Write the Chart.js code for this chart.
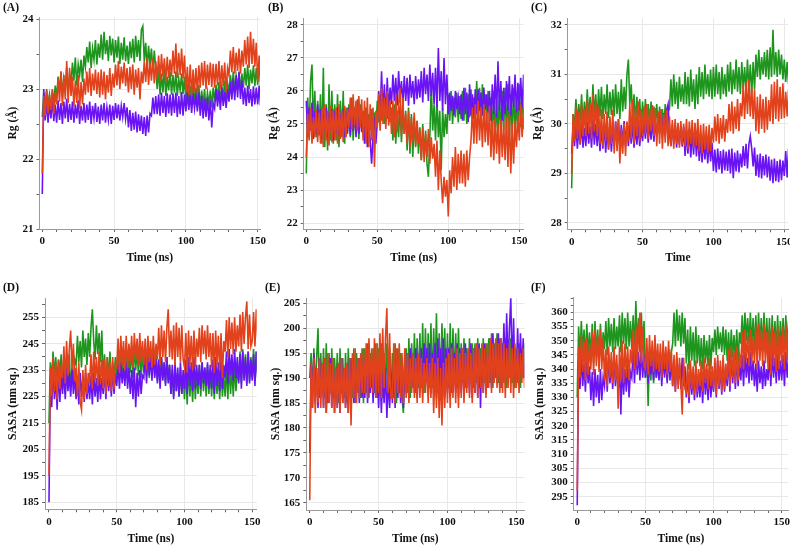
<!DOCTYPE html>
<html>
<head>
<meta charset="utf-8">
<script src="https://cdn.jsdelivr.net/npm/chart.js@4.4.0/dist/chart.umd.min.js"></script>
<style>
  html, body { margin: 0; padding: 0; background: #fff; }
  #wrap { position: relative; width: 790px; height: 546px; overflow: hidden; }
  #wrap canvas { position: absolute; }
  .tag { position: absolute; font: bold 11.5px "Liberation Serif", serif; color: #111; line-height: 14px; }
</style>
</head>
<body>
<div id="wrap"></div>
<script>
// time axis (ns), one sample per ns, shared by every trace
const TIME = [0,1,2,3,4,5,6,7,8,9,10,11,12,13,14,15,16,17,18,19,20,21,22,23,24,25,26,27,28,29,
  30,31,32,33,34,35,36,37,38,39,40,41,42,43,44,45,46,47,48,49,50,51,52,53,54,55,56,57,58,59,
  60,61,62,63,64,65,66,67,68,69,70,71,72,73,74,75,76,77,78,79,80,81,82,83,84,85,86,87,88,89,
  90,91,92,93,94,95,96,97,98,99,100,101,102,103,104,105,106,107,108,109,110,111,112,113,114,
  115,116,117,118,119,120,121,122,123,124,125,126,127,128,129,130,131,132,133,134,135,136,137,
  138,139,140,141,142,143,144,145,146,147,148,149,150,151,152,153,154,155,156];

const X_TICKS = [0, 50, 100, 150];
const X_GRID = [50, 100, 150];

// (A) Rg (Å)
const A_YTICKS = [21, 22, 23, 24];
const A_GREEN = [
  22.60,22.95,22.72,23.00,22.78,22.92,22.70,22.98,22.80,23.05,
  22.86,23.18,22.95,23.25,22.88,23.15,23.00,23.30,22.92,23.22,
  23.08,23.38,23.12,23.45,23.05,23.35,23.20,23.42,23.10,23.48,
  23.32,23.60,23.38,23.68,23.30,23.58,23.42,23.70,23.35,23.65,
  23.45,23.78,23.42,23.82,23.50,23.70,23.40,23.76,23.48,23.72,
  23.38,23.70,23.45,23.75,23.36,23.66,23.42,23.74,23.40,23.62,
  23.36,23.68,23.44,23.72,23.38,23.76,23.46,23.70,23.40,23.85,
  23.90,23.40,23.66,23.30,23.62,23.35,23.58,23.25,23.55,23.28,
  23.00,23.28,22.92,23.22,22.95,23.30,22.90,23.18,22.98,23.25,
  22.92,23.20,22.95,23.25,22.90,23.15,22.98,23.22,22.93,23.18,
  22.80,23.08,22.76,23.05,22.82,23.10,22.78,23.02,22.75,23.06,
  22.72,22.98,22.76,23.00,22.70,22.95,22.78,22.98,22.74,23.02,
  22.82,23.06,22.86,23.10,22.80,23.04,22.88,23.12,22.84,23.08,
  22.96,23.20,22.98,23.25,22.95,23.18,23.00,23.24,22.97,23.22,
  23.02,23.30,23.05,23.35,23.00,23.28,23.08,23.34,23.04,23.30,
  23.06,23.38,23.10,23.40,23.05,23.32,23.12];
const A_RED = [
  21.80,22.90,22.62,22.98,22.66,22.92,22.70,23.00,22.64,22.95,
  22.78,23.15,22.82,23.25,22.76,23.20,22.85,23.40,22.80,23.30,
  22.90,23.18,22.75,23.12,22.80,23.20,22.72,23.10,22.78,23.15,
  22.92,23.25,22.95,23.30,22.90,23.22,22.98,23.28,22.93,23.24,
  22.88,23.28,22.92,23.25,22.85,23.20,22.95,23.30,22.90,23.22,
  23.02,23.35,23.05,23.40,23.00,23.32,23.08,23.38,23.04,23.30,
  22.95,23.32,23.00,23.35,22.92,23.28,23.02,23.30,22.85,23.25,
  23.08,23.40,23.10,23.45,23.06,23.38,23.12,23.44,23.08,23.40,
  23.14,23.48,23.12,23.50,23.18,23.44,23.10,23.46,23.16,23.42,
  23.18,23.55,23.22,23.65,23.16,23.52,23.20,23.58,23.15,23.48,
  22.95,23.32,22.92,23.35,22.90,23.28,22.96,23.30,22.93,23.34,
  23.02,23.38,23.05,23.40,23.00,23.35,23.06,23.38,23.03,23.36,
  23.02,23.36,23.05,23.40,23.00,23.34,23.04,23.38,22.95,23.30,
  23.20,23.55,23.24,23.60,23.22,23.52,23.26,23.58,23.22,23.55,
  23.32,23.70,23.35,23.75,23.30,23.82,23.36,23.72,23.32,23.66,
  23.10,23.48,23.06,23.45,23.12,23.50,23.08];
const A_BLUE = [
  21.50,23.00,22.55,22.82,22.52,22.80,22.58,22.85,22.54,22.78,
  22.52,22.84,22.56,22.80,22.50,22.82,22.58,22.86,22.53,22.79,
  22.56,22.82,22.52,22.78,22.58,22.84,22.50,22.76,22.55,22.80,
  22.52,22.78,22.56,22.82,22.50,22.76,22.58,22.80,22.53,22.75,
  22.50,22.78,22.55,22.80,22.52,22.74,22.56,22.78,22.50,22.76,
  22.56,22.80,22.58,22.78,22.55,22.76,22.60,22.80,22.57,22.74,
  22.45,22.70,22.40,22.66,22.42,22.68,22.38,22.64,22.40,22.62,
  22.36,22.60,22.33,22.62,22.38,22.65,22.62,22.88,22.64,22.90,
  22.64,22.92,22.62,22.95,22.66,22.90,22.60,22.94,22.65,22.92,
  22.62,22.94,22.66,22.95,22.60,22.90,22.64,22.96,22.62,22.92,
  22.68,22.95,22.70,22.92,22.66,22.94,22.72,22.90,22.68,22.95,
  22.62,22.90,22.58,22.86,22.60,22.88,22.55,22.84,22.45,22.80,
  22.72,23.00,22.75,22.98,22.70,23.02,22.76,22.96,22.73,23.00,
  22.82,23.10,22.85,23.15,22.84,23.20,22.88,23.25,22.86,23.12,
  22.78,23.02,22.76,23.05,22.80,23.00,22.75,23.04,22.78,23.02,
  22.78,23.05,22.76,23.02,22.80,23.04,22.78];

// (B) Rg (Å)
const B_YTICKS = [22, 23, 24, 25, 26, 27, 28];
const B_GREEN = [
  23.50,25.80,24.70,26.30,26.80,24.90,26.00,24.60,25.70,24.80,
  25.90,24.40,26.70,24.30,25.60,24.20,26.20,24.50,26.00,24.40,
  25.60,24.50,25.90,24.30,25.70,24.60,26.00,24.40,25.50,24.70,
  25.60,24.60,25.80,24.50,25.50,24.70,25.75,24.55,25.60,24.80,
  25.40,24.70,25.50,24.60,25.30,24.80,25.45,24.65,25.35,24.90,
  25.70,25.05,25.80,25.10,25.60,25.00,25.75,25.15,25.65,25.05,
  25.50,24.50,25.60,24.40,25.40,24.60,25.55,24.45,25.35,24.70,
  25.40,24.20,25.50,24.10,25.30,24.00,25.20,24.30,25.10,24.10,
  24.90,23.90,25.00,24.00,24.80,23.80,23.40,24.60,26.20,24.80,
  25.60,24.50,25.80,24.60,25.40,23.60,25.50,24.60,25.30,24.70,
  25.90,25.10,26.00,25.00,25.80,25.20,25.95,25.05,25.85,25.15,
  26.00,25.10,26.10,25.00,25.90,25.20,26.05,25.05,25.80,25.10,
  26.30,25.10,26.10,25.00,26.20,25.20,25.90,25.05,26.00,25.10,
  25.80,24.60,26.00,24.50,25.70,24.70,25.90,24.55,26.00,24.80,
  26.10,24.60,26.20,24.50,25.90,24.70,26.10,24.60,25.80,24.80,
  26.20,24.90,26.00,24.85,26.10,25.00,25.95];
const B_RED = [
  24.00,25.30,24.50,25.50,24.40,25.20,24.60,25.45,24.45,25.35,
  24.40,25.50,24.30,25.60,24.50,25.40,24.35,25.55,24.45,25.45,
  24.50,25.50,24.40,25.60,24.55,25.40,24.45,25.55,24.60,25.50,
  24.90,25.80,24.85,25.90,24.95,25.70,24.80,25.85,24.90,25.75,
  24.50,25.70,24.40,25.80,24.30,25.60,24.50,25.50,23.70,25.40,
  24.90,25.90,24.80,26.10,25.00,25.80,24.85,26.00,24.95,25.70,
  24.70,25.70,24.60,25.90,24.75,25.60,26.10,24.65,25.80,24.70,
  25.30,24.40,25.40,24.30,25.20,24.45,25.35,24.35,25.10,24.40,
  24.80,23.90,24.90,23.85,24.70,24.00,24.85,23.80,24.60,23.95,
  24.40,23.40,24.50,23.00,24.20,23.30,22.60,23.40,22.80,23.30,
  22.20,23.60,22.90,24.00,23.10,24.30,23.00,24.10,23.20,24.20,
  23.20,24.10,23.10,24.20,23.30,24.00,24.50,25.50,24.40,25.60,
  24.40,25.70,24.50,25.50,24.30,25.60,24.45,25.40,24.35,25.55,
  24.00,25.10,23.90,25.20,24.10,25.00,23.80,25.15,24.00,25.05,
  23.90,25.20,23.70,25.30,23.50,25.00,23.80,25.10,24.30,25.25,
  24.50,25.60,24.60,25.50,24.55,25.55,24.60];
const B_BLUE = [
  25.70,24.60,25.50,24.80,25.65,24.55,25.40,24.70,25.60,24.65,
  25.45,24.55,25.30,24.75,25.50,24.60,25.35,24.80,25.45,24.50,
  25.40,24.70,25.50,24.65,25.30,24.80,25.45,24.60,25.35,24.75,
  25.50,24.65,25.40,24.80,25.45,24.60,25.30,24.70,25.50,24.75,
  25.30,24.40,25.20,24.30,25.10,24.50,23.80,24.60,25.20,24.40,
  25.10,26.00,25.20,26.60,25.30,26.20,25.10,26.40,25.40,26.10,
  25.60,26.50,25.70,26.40,25.55,26.60,25.80,26.30,25.60,26.45,
  25.70,26.40,25.55,26.50,25.80,26.30,25.60,26.45,25.75,26.35,
  25.80,26.60,25.65,26.70,25.90,26.50,25.70,26.80,25.85,26.55,
  25.60,26.70,25.50,27.30,25.70,26.60,25.40,27.00,25.60,26.50,
  25.30,25.95,25.40,25.85,25.25,26.00,25.45,25.80,25.30,25.90,
  25.10,26.10,25.30,25.95,25.05,26.20,25.25,25.90,25.15,26.05,
  25.30,26.05,25.40,25.95,25.25,26.10,25.45,25.90,25.35,26.00,
  25.10,26.20,25.30,26.50,25.20,26.90,25.40,26.30,25.10,26.10,
  25.30,26.30,25.40,26.45,25.25,26.20,25.50,26.50,25.35,26.25,
  25.40,26.40,25.50,26.50,25.35,26.30,25.45];

// (C) Rg (Å)
const C_YTICKS = [28, 29, 30, 31, 32];
const C_GREEN = [
  28.70,30.20,29.95,30.50,30.00,30.40,30.05,30.60,29.95,30.45,
  30.05,30.70,30.10,30.55,30.00,30.80,30.15,30.60,30.05,30.70,
  30.15,30.75,30.10,30.60,30.20,30.80,30.12,30.65,30.18,30.70,
  30.15,30.80,30.20,30.65,30.10,30.90,30.25,30.75,30.30,31.00,
  31.30,30.40,30.80,30.10,30.60,29.95,30.55,30.00,30.50,29.90,
  30.45,29.95,30.50,29.90,30.40,30.00,30.45,29.92,30.35,30.00,
  30.40,29.90,30.35,29.95,30.30,29.90,30.40,29.95,30.25,30.30,
  30.90,30.35,31.00,30.40,30.85,30.30,30.95,30.45,30.80,30.40,
  31.05,30.40,30.95,30.35,31.10,30.45,30.90,30.30,31.00,30.40,
  31.15,30.55,31.05,30.50,31.20,30.60,31.00,30.55,31.10,30.50,
  31.15,30.55,31.20,30.60,31.05,30.50,31.15,30.60,31.00,30.55,
  31.20,30.65,31.25,30.60,31.10,30.70,31.30,30.65,31.15,30.60,
  31.25,30.70,31.15,30.65,31.30,30.70,31.20,30.60,31.25,30.70,
  31.40,30.95,31.50,30.90,31.35,31.00,31.45,30.95,31.50,30.90,
  31.55,30.95,31.90,31.00,31.45,30.95,31.50,31.00,31.40,30.90,
  31.30,30.85,31.25,30.80,31.30,30.90,31.20];
const C_RED = [
  29.00,30.20,29.65,30.35,29.70,30.25,29.60,30.40,29.75,30.30,
  29.75,30.50,29.80,30.40,29.70,30.60,29.85,30.45,29.75,30.35,
  29.60,30.30,29.55,30.20,29.65,30.25,29.50,30.15,29.60,30.28,
  29.40,30.05,29.45,30.10,29.20,29.90,29.40,30.00,29.35,30.05,
  29.65,30.40,29.70,30.50,29.60,30.35,29.75,30.45,29.65,30.30,
  29.75,30.35,29.80,30.40,29.70,30.30,29.85,30.38,29.75,30.32,
  29.55,30.25,29.60,30.30,29.50,30.20,29.62,30.28,29.55,30.15,
  29.55,30.08,29.50,30.10,29.60,30.02,29.52,30.06,29.58,30.00,
  29.55,30.10,29.50,30.05,29.60,30.08,29.52,30.02,29.56,30.10,
  29.45,29.98,29.40,30.00,29.48,29.95,29.42,29.98,29.45,29.92,
  29.62,30.15,29.65,30.20,29.60,30.12,29.70,30.18,29.64,30.10,
  29.82,30.40,29.85,30.45,29.80,30.35,29.90,30.50,29.85,30.42,
  30.15,30.80,30.10,30.85,30.20,30.90,30.15,30.75,30.10,30.70,
  29.85,30.55,29.80,30.60,29.90,30.50,29.82,30.55,29.88,30.48,
  30.05,30.80,30.00,30.85,30.10,30.90,30.05,30.75,30.10,30.82,
  30.12,30.65,30.15,30.70,30.10,30.62,30.18];
const C_BLUE = [
  29.40,29.95,29.55,30.00,29.50,29.90,29.58,29.98,29.52,29.92,
  29.55,30.05,29.60,29.95,29.52,30.10,29.58,30.00,29.55,29.96,
  29.45,29.95,29.50,30.00,29.42,29.92,29.48,29.98,29.44,29.90,
  29.55,30.05,29.60,30.10,29.52,29.98,29.58,30.06,29.55,30.02,
  29.55,29.98,29.60,30.00,29.52,29.95,29.58,29.98,29.55,29.94,
  29.65,30.05,29.70,30.10,29.62,30.02,29.68,30.08,29.64,30.04,
  29.75,30.20,29.80,30.25,29.72,30.22,29.78,30.28,30.40,29.80,
  29.55,29.98,29.60,30.00,29.52,29.95,29.58,29.98,29.54,29.94,
  29.35,29.85,29.40,29.90,29.32,29.82,29.38,29.88,29.34,29.80,
  29.25,29.68,29.22,29.70,29.28,29.65,29.20,29.68,29.24,29.62,
  29.05,29.48,29.02,29.50,29.08,29.45,29.00,29.48,29.06,29.44,
  29.05,29.48,29.00,29.50,28.90,29.42,29.04,29.46,29.02,29.40,
  29.12,29.55,29.15,29.60,29.10,29.58,29.75,29.50,29.14,29.52,
  28.95,29.38,28.92,29.40,28.90,29.35,28.96,29.38,28.92,29.34,
  28.85,29.28,28.80,29.30,28.84,29.25,28.82,29.28,28.86,29.26,
  28.95,29.45,28.92,29.50,28.96,29.42,28.98];

// (D) SASA (nm sq.)
const D_YTICKS = [185, 195, 205, 215, 225, 235, 245, 255];
const D_GREEN = [
  215,238,231,242,233,240,230,239,234,241,
  228,240,226,238,230,241,227,236,231,239,
  237,248,238,246,236,250,240,247,237,249,
  240,251,258,246,239,252,241,249,238,250,
  230,241,228,240,232,242,229,238,231,240,
  233,243,232,244,234,242,233,244,232,241,
  234,244,232,245,235,243,233,245,232,242,
  234,244,233,245,232,243,235,244,233,242,
  231,239,230,240,232,238,230,240,231,237,
  226,235,225,236,227,234,225,236,226,233,
  224,236,222,238,225,235,223,237,224,234,
  226,237,225,238,227,236,225,237,226,235,
  225,235,224,236,226,234,224,236,225,233,
  225,237,224,238,226,236,225,237,227,235,
  231,242,230,243,232,241,230,242,231,240,
  232,243,231,242,233,241,232];
const D_RED = [
  195,236,225,240,227,238,224,239,228,237,
  232,244,230,246,233,243,250,235,245,231,
  236,225,238,223,220,235,224,237,226,234,
  230,241,228,242,231,240,229,242,230,239,
  228,239,226,240,229,238,227,240,228,237,
  236,247,234,248,237,246,235,248,236,245,
  238,248,236,249,239,247,237,249,238,246,
  237,247,235,248,238,246,236,248,237,245,
  239,251,237,252,240,250,238,251,258,240,
  250,239,252,237,253,240,251,238,252,239,
  236,249,234,250,237,248,235,250,236,247,
  240,251,238,252,241,250,239,252,240,249,
  236,249,234,250,237,248,235,249,232,246,
  242,254,240,255,243,253,241,255,242,252,
  244,256,242,257,245,255,261,243,256,244,
  246,257,244,258,247,256,245];
const D_BLUE = [
  185,232,221,236,224,233,220,235,223,234,
  226,235,224,236,227,234,225,236,226,233,
  224,233,222,234,225,232,223,234,224,231,
  224,233,222,234,225,232,223,234,224,232,
  226,235,224,236,227,234,225,236,226,234,
  229,237,228,238,230,236,229,238,228,236,
  226,235,224,236,221,234,225,235,226,233,
  232,241,230,242,233,240,231,242,232,239,
  230,239,228,240,231,238,229,240,230,237,
  226,237,224,238,227,236,225,238,226,235,
  228,239,226,240,229,238,227,240,228,237,
  229,237,228,238,230,236,229,238,228,237,
  228,239,226,240,229,238,227,240,228,237,
  232,242,230,243,233,241,231,243,232,240,
  230,241,228,242,231,240,229,242,230,239,
  231,241,229,242,232,240,230];

// (E) SASA (nm sq.)
const E_YTICKS = [165, 170, 175, 180, 185, 190, 195, 200, 205];
const E_GREEN = [
  190,195,187,196,188,194,200,186,195,187,
  196,186,197,185,195,187,196,186,194,188,
  195,185,196,187,194,186,195,185,196,187,
  194,186,196,185,195,187,194,186,196,185,
  196,187,197,186,195,188,196,187,197,186,
  196,187,197,186,195,188,197,187,196,186,
  195,186,197,185,196,187,195,186,183,194,
  196,187,198,186,197,188,199,187,198,188,
  199,188,201,187,200,189,199,188,201,188,
  200,189,203,187,199,188,201,189,200,188,
  199,188,201,187,200,189,199,188,200,189,
  197,189,198,188,196,190,198,189,197,188,
  197,189,198,188,196,190,198,189,197,188,
  198,189,199,188,197,190,199,189,198,188,
  197,189,198,188,196,190,198,189,197,188,
  196,189,197,188,196,190,197];
const E_RED = [
  165.5,193,184,194,183,192,185,194,184,193,
  184,194,183,195,185,193,184,194,183,192,
  184,193,183,194,185,192,184,193,183,194,
  180.5,195,186,196,185,194,186,195,187,196,
  187,197,186,198,188,196,187,198,186,197,
  187,199,186,200,188,198,204,187,199,186,
  186,197,185,196,187,197,186,195,185,196,
  186,195,185,194,187,195,186,194,185,195,
  186,194,185,193,187,194,185,193,186,194,
  183,193,184,194,182,192,180.5,193,184,194,
  185,195,184,196,186,194,185,196,184,195,
  186,196,185,195,187,196,186,195,185,196,
  187,197,186,196,188,197,187,196,186,197,
  188,198,187,197,189,198,188,197,187,198,
  187,197,186,196,188,197,187,196,186,197,
  188,196,187,195,189,196,188];
const E_BLUE = [
  175,193,184,195,185,192,184,194,186,193,
  184,194,183,192,185,194,184,193,183,192,
  184,193,183,194,185,192,184,193,183,194,
  186,194,185,193,187,194,185,192,186,194,
  186,193,185,192,187,193,185,192,186,193,
  184,192,183,191,185,192,182,190,184,191,
  185,193,184,194,186,193,185,194,184,192,
  187,195,186,196,188,195,187,196,186,195,
  188,196,187,197,189,196,188,197,187,195,
  187,197,186,198,188,196,187,198,186,196,
  187,196,186,197,188,195,187,197,186,196,
  187,196,186,197,188,195,187,197,186,196,
  187,196,186,197,184,196,187,197,188,195,
  189,198,188,199,190,197,189,199,188,198,
  191,201,190,203,192,200,206,191,202,190,
  190,200,189,199,191,198,190];

// (F) SASA (nm sq.)
const F_YTICKS = [295, 300, 305, 310, 315, 320, 325, 330, 335, 340, 345, 350, 355, 360];
const F_GREEN = [
  330,355,344,357,346,354,343,356,345,353,
  344,356,342,357,345,354,343,356,344,353,
  347,357,345,358,348,356,346,358,347,355,
  348,359,346,360,349,358,347,360,348,357,
  347,359,346,364,348,358,346,360,347,357,
  337,347,327,346,336,348,335,347,337,345,
  337,346,336,347,338,345,336,347,337,346,
  349,360,348,361,350,359,348,360,349,358,
  342,354,340,355,343,353,341,355,342,352,
  341,351,340,352,342,350,341,352,340,351,
  346,354,345,355,347,353,346,355,345,354,
  343,353,342,354,344,352,343,354,342,353,
  349,359,348,360,350,358,349,360,348,358,
  347,359,346,360,348,358,347,360,346,358,
  346,358,345,359,347,357,346,359,345,357,
  347,358,346,359,348,357,347];
const F_RED = [
  297,348,337,352,339,350,336,351,338,349,
  340,353,338,354,341,352,339,354,340,351,
  336,347,334,348,337,346,335,348,336,345,
  326,348,336,350,335,349,337,348,336,347,
  342,354,340,355,341,353,360,342,355,341,
  340,351,338,352,341,350,339,352,340,349,
  339,349,337,350,340,348,338,350,339,347,
  334,345,332,346,333,344,335,324,344,333,
  332,342,330,343,333,341,331,343,332,340,
  334,343,332,344,335,342,333,344,334,341,
  333,344,331,345,334,343,332,345,333,342,
  336,347,334,348,337,346,335,348,336,345,
  342,353,340,354,343,352,341,354,342,351,
  342,355,340,356,343,354,341,356,342,353,
  340,354,338,355,341,353,339,355,340,352,
  342,355,340,356,343,354,341];
const F_BLUE = [
  292,343,333,345,334,342,332,344,335,341,
  329,339,327,340,330,338,328,340,329,337,
  334,344,332,345,335,343,333,345,334,342,
  332,341,324,342,331,340,332,342,330,339,
  337,347,335,348,338,346,336,348,337,345,
  337,344,335,345,338,343,336,345,337,342,
  336,345,334,346,337,344,335,346,336,343,
  334,343,332,344,335,342,333,344,334,341,
  330,339,328,340,331,338,329,340,330,337,
  330,339,328,340,331,338,329,340,330,337,
  332,342,330,343,333,341,331,343,332,340,
  334,344,332,345,335,343,333,345,334,342,
  336,345,334,346,337,344,335,346,336,343,
  334,342,332,343,335,341,333,343,334,340,
  336,345,334,346,337,344,335,346,336,343,
  336,345,334,346,337,344,335];

const GREEN = '#1e961e';
const RED = '#e2421b';
const BLUE = '#6a14f5';
const SERIF = '"Liberation Serif", "Times New Roman", serif';

// canvas: [left, top, right, bottom], plot: chart-area [left, top, right, bottom] in page px
const PANELS = [
  { tag: '(A)', tagPos: [3, 0], canvas: [0, 0, 266, 265], plot: [39.5, 17, 260, 229],
    x: [-1.95, 151.6], y: [21, 24.03], yStep: 0.5, yTicks: A_YTICKS,
    yTitle: 'Rg (Å)', yTitlePad: 5.8, xTitle: 'Time (ns)', lines: [A_RED, A_BLUE, A_GREEN] },
  { tag: '(B)', tagPos: [268, 0], canvas: [262, 0, 530, 265], plot: [303.7, 18, 523.7, 229],
    x: [-1.83, 153.1], y: [21.82, 28.21], yStep: 0.5, yTicks: B_YTICKS,
    yTitle: 'Rg (Å)', yTitlePad: 4.8, xTitle: 'Time (ns)', lines: [B_RED, B_BLUE, B_GREEN] },
  { tag: '(C)', tagPos: [531, 0], canvas: [525, 0, 792, 265], plot: [567.7, 18, 788, 229.3],
    x: [-2.8, 152.6], y: [27.87, 32.14], yStep: 0.5, yTicks: C_YTICKS,
    yTitle: 'Rg (Å)', yTitlePad: 6.4, xTitle: 'Time', lines: [C_RED, C_BLUE, C_GREEN] },
  { tag: '(D)', tagPos: [3, 280], canvas: [0, 265, 266, 546], plot: [45, 298, 256.7, 509.3],
    x: [-2.95, 153.3], y: [182.35, 262.3], yStep: 5, yTicks: D_YTICKS,
    yTitle: 'SASA (nm sq.)', yTitlePad: 6.4, xTitle: 'Time (ns)', lines: [D_RED, D_BLUE, D_GREEN] },
  { tag: '(E)', tagPos: [265, 280], canvas: [262, 265, 530, 546], plot: [306.3, 298, 524.3, 510],
    x: [-2.5, 155.8], y: [163.54, 206.06], yStep: 2.5, yTicks: E_YTICKS,
    yTitle: 'SASA (nm sq.)', yTitlePad: 7.1, xTitle: 'Time (ns)', lines: [E_RED, E_BLUE, E_GREEN] },
  { tag: '(F)', tagPos: [531, 280], canvas: [525, 265, 792, 546], plot: [573.7, 297.7, 788, 510],
    x: [-2.6, 154.6], y: [290.3, 365.2], yStep: 2.5, yTicks: F_YTICKS,
    yTitle: 'SASA (nm sq.)', yTitlePad: 8.1, xTitle: 'Time (ns)', lines: [F_RED, F_BLUE, F_GREEN] },
];

const wrap = document.getElementById('wrap');
const near = (list, v) => list.some(t => Math.abs(t - v) < 1e-6);
const tickFont = { family: SERIF, size: 11, weight: 'bold' };
const titleFont = { family: SERIF, size: 11.5, weight: 'bold' };

function makePanel(p) {
  const [cl, ct, cr, cb] = p.canvas;
  const [L, T, R, B] = p.plot;

  const canvas = document.createElement('canvas');
  canvas.width = cr - cl;
  canvas.height = cb - ct;
  canvas.style.left = cl + 'px';
  canvas.style.top = ct + 'px';
  wrap.appendChild(canvas);

  const tag = document.createElement('div');
  tag.className = 'tag';
  tag.textContent = p.tag;
  tag.style.left = p.tagPos[0] + 'px';
  tag.style.top = p.tagPos[1] + 'px';
  wrap.appendChild(tag);

  // dataset 0 is painted last, so red ends up on top and green underneath
  const colors = [RED, BLUE, GREEN];
  const datasets = p.lines.map((vals, k) => ({
    data: TIME.map((t, i) => ({ x: t, y: vals[i] })),
    borderColor: colors[k],
    borderWidth: 1.6,
    pointRadius: 0,
    tension: 0,
  }));

  new Chart(canvas.getContext('2d'), {
    type: 'line',
    data: { datasets },
    options: {
      responsive: false,
      animation: false,
      events: [],
      layout: { padding: { top: T - ct, right: cr - R, bottom: 0, left: 0 } },
      plugins: { legend: { display: false }, tooltip: { enabled: false } },
      scales: {
        x: {
          type: 'linear', min: p.x[0], max: p.x[1],
          ticks: {
            stepSize: 10, autoSkip: false, maxRotation: 0, includeBounds: false,
            padding: 3, color: '#111', font: tickFont,
            callback: v => near(X_TICKS, v) ? v : '',
          },
          grid: {
            color: c => (c.tick && near(X_GRID, c.tick.value)) ? '#e8e8e8' : 'rgba(0,0,0,0)',
            tickColor: '#666', tickLength: 3,
          },
          border: { color: '#9a9a9a' },
          title: { display: true, text: p.xTitle, color: '#111', font: titleFont, padding: { top: 0, bottom: 0 } },
          afterFit: s => { s.height = cb - B; s.paddingLeft = 0; s.paddingRight = 0; },
        },
        y: {
          type: 'linear', min: p.y[0], max: p.y[1],
          ticks: {
            stepSize: p.yStep, autoSkip: false, includeBounds: false,
            padding: 3, color: '#111', font: tickFont,
            callback: v => near(p.yTicks, v) ? v : '',
          },
          grid: {
            color: c => (c.tick && near(p.yTicks, c.tick.value)) ? '#e8e8e8' : 'rgba(0,0,0,0)',
            tickColor: '#666', tickLength: 3,
          },
          border: { color: '#9a9a9a' },
          title: { display: true, text: p.yTitle, color: '#111', font: titleFont, padding: { top: p.yTitlePad, bottom: 0 } },
          afterFit: s => { s.width = L - cl; s.paddingTop = 0; s.paddingBottom = 0; },
        },
      },
    },
  });
}

PANELS.forEach(makePanel);
</script>
</body>
</html>
